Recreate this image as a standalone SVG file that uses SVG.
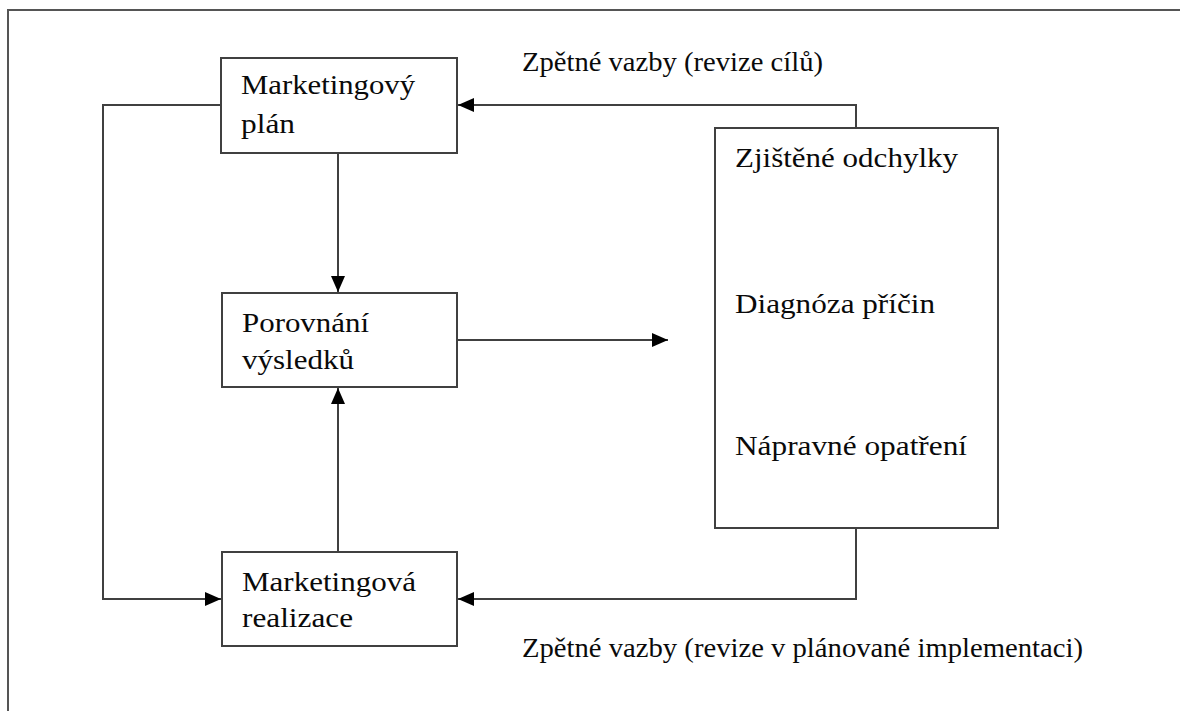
<svg xmlns="http://www.w3.org/2000/svg" width="1180" height="711" viewBox="0 0 1180 711">
<style>
.box{fill:#fff;stroke:#404040;stroke-width:2}
.ln{fill:none;stroke:#404040;stroke-width:2}
.t{font-size:28px;fill:#0a0a0a}
</style>
<defs>
<marker id="ah" markerUnits="userSpaceOnUse" markerWidth="16" markerHeight="14" refX="16" refY="7" orient="auto">
<path d="M0,0 L16,7 L0,14 Z" fill="#000"/>
</marker>
</defs>
<rect x="0" y="0" width="1180" height="711" fill="#fff"/>
<rect id="frame" x="8" y="10" width="1190" height="720" fill="none" stroke="#555" stroke-width="2"/>
<g id="connectors">
<path class="ln" d="M338,153 L338,292" marker-end="url(#ah)"/>
<path class="ln" d="M338,552 L338,388" marker-end="url(#ah)"/>
<path class="ln" d="M457,340 L668,340" marker-end="url(#ah)"/>
<path class="ln" d="M221,105 L103,105 L103,599 L221,599" marker-end="url(#ah)"/>
<path class="ln" d="M856,128 L856,105 L458,105" marker-end="url(#ah)"/>
<path class="ln" d="M856,528 L856,599 L458,599" marker-end="url(#ah)"/>
</g>
<g font-family="'Liberation Serif', 'Times New Roman', Times, serif">
<g id="plan">
<rect class="box" x="221" y="58" width="236" height="95"/>
<text class="t" x="241" y="94" textLength="174" lengthAdjust="spacingAndGlyphs">Marketingový</text>
<text class="t" x="241" y="133" textLength="54" lengthAdjust="spacingAndGlyphs">plán</text>
</g>
<g id="porovnani">
<rect class="box" x="222" y="293" width="235" height="94"/>
<text class="t" x="242" y="332" textLength="127" lengthAdjust="spacingAndGlyphs">Porovnání</text>
<text class="t" x="242" y="369" textLength="112" lengthAdjust="spacingAndGlyphs">výsledků</text>
</g>
<g id="realizace">
<rect class="box" x="222" y="552" width="235" height="94"/>
<text class="t" x="242" y="591" textLength="174" lengthAdjust="spacingAndGlyphs">Marketingová</text>
<text class="t" x="242" y="627" textLength="111" lengthAdjust="spacingAndGlyphs">realizace</text>
</g>
<g id="analyza">
<rect class="box" x="715" y="128" width="283" height="400"/>
<text class="t" x="735" y="167" textLength="223" lengthAdjust="spacingAndGlyphs">Zjištěné odchylky</text>
<text class="t" x="735" y="313" textLength="200" lengthAdjust="spacingAndGlyphs">Diagnóza příčin</text>
<text class="t" x="735" y="455" textLength="232" lengthAdjust="spacingAndGlyphs">Nápravné opatření</text>
</g>
<g id="labels">
<text class="t" x="522" y="71" textLength="301" lengthAdjust="spacingAndGlyphs">Zpětné vazby (revize cílů)</text>
<text class="t" x="522" y="657" textLength="561" lengthAdjust="spacingAndGlyphs">Zpětné vazby (revize v plánované implementaci)</text>
</g>
</g>
</svg>
